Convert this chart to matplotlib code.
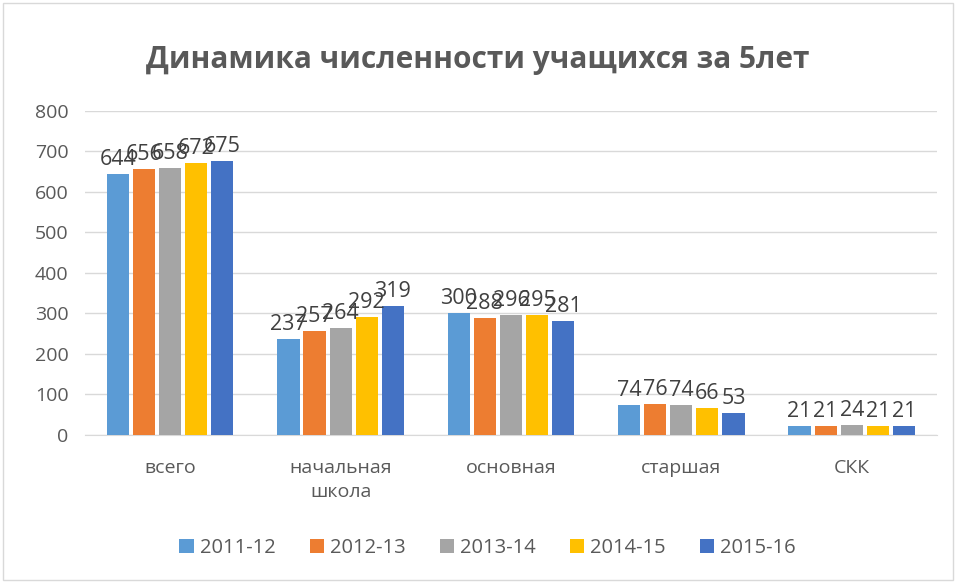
import numpy as np
import matplotlib
matplotlib.use("Agg")
import matplotlib.pyplot as plt
from matplotlib.patches import Rectangle

categories = ["всего", "начальная\nшкола", "основная", "старшая", "СКК"]
years = ["2011-12", "2012-13", "2013-14", "2014-15", "2015-16"]
v_2011 = [644, 237, 300, 74, 21]
v_2012 = [656, 257, 288, 76, 21]
v_2013 = [658, 264, 296, 74, 24]
v_2014 = [672, 292, 295, 66, 21]
v_2015 = [675, 319, 281, 53, 21]
series = [v_2011, v_2012, v_2013, v_2014, v_2015]
colors = ["#5B9BD5", "#ED7D31", "#A5A5A5", "#FFC000", "#4472C4"]

plt.rcParams["font.family"] = ["Open Sans", "DejaVu Sans"]
TXT = "#595959"

fig = plt.figure(figsize=(9.56, 5.83), dpi=100)
ax = fig.add_axes([0.089, 0.254, 0.891, 0.556])

x = np.arange(len(categories))
step = 0.153
width = 0.13
for i, (vals, c, lab) in enumerate(zip(series, colors, years)):
    pos = x + (i - 2) * step
    ax.bar(pos, vals, width=width, color=c, label=lab, zorder=3)
    for p, v in zip(pos, vals):
        ax.text(p, v + 10, str(v), ha="center", va="bottom",
                fontsize=15.5, color="#404040", zorder=4)

ax.set_xlim(-0.5, len(categories) - 0.5)
ax.set_ylim(0, 800)
ax.set_yticks(range(0, 801, 100))
ax.yaxis.grid(True, color="#D9D9D9", linewidth=1, zorder=0)
ax.set_xticks(x)
ax.set_xticklabels(categories, fontsize=14, color=TXT, linespacing=1.45)
ax.tick_params(axis="y", labelsize=14, labelcolor=TXT, length=0, pad=12)
ax.tick_params(axis="x", length=0, pad=17)
for s in ["top", "right", "left"]:
    ax.spines[s].set_visible(False)
ax.spines["bottom"].set_color("#D9D9D9")

fig.text(0.5, 0.897, "Динамика численности учащихся за 5лет", ha="center",
         va="center", fontsize=21.5, fontweight="bold", color=TXT)

leg = fig.legend(loc="center", bbox_to_anchor=(0.51, 0.06), ncol=5,
                 frameon=False, fontsize=14.5, handlelength=0.7, handleheight=0.7,
                 columnspacing=1.7, handletextpad=0.3)
for t in leg.get_texts():
    t.set_color(TXT)

fig.patches.append(Rectangle((0.003, 0.005), 0.994, 0.99, transform=fig.transFigure,
                             fill=False, edgecolor="#D9D9D9", linewidth=1))

fig.savefig("out.png", dpi=100)
